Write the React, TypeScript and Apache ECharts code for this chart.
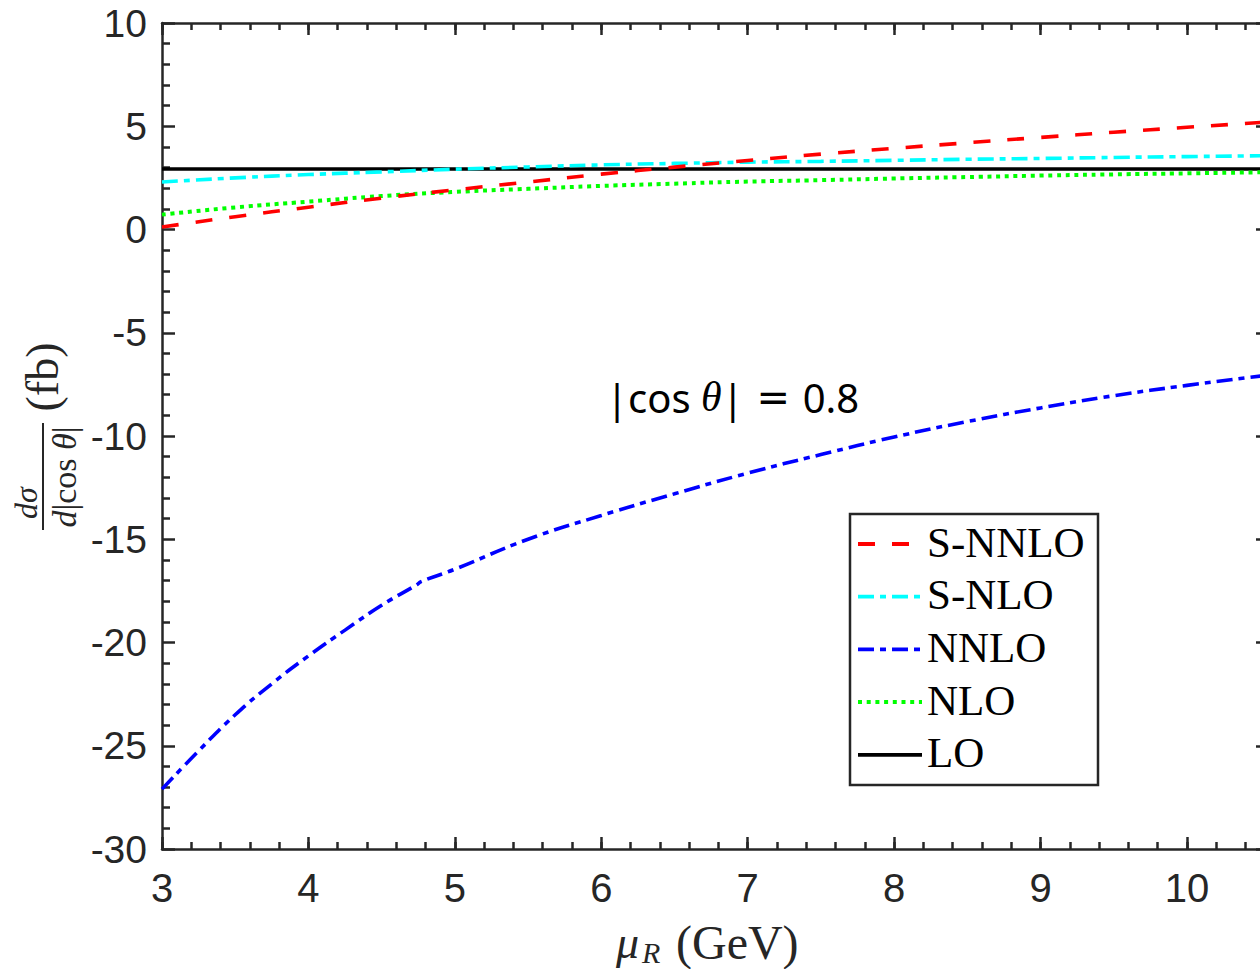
import React, { useEffect, useRef } from "react";
import * as echarts from "echarts";

// ---------------- data ----------------
const seriesNames = ["S-NNLO", "S-NLO", "NNLO", "NLO", "LO"];
const muR = [3, 3.5, 4, 4.5, 5, 5.5, 6, 6.5, 7, 7.5, 8, 8.5, 9, 9.5, 10, 10.5];
const sNNLO = [0.12, 0.62, 1.08, 1.52, 1.92, 2.3, 2.68, 3.02, 3.34, 3.65, 3.93, 4.2, 4.46, 4.71, 4.95, 5.18];
const sNLO = [2.3, 2.5, 2.66, 2.79, 2.92, 3.03, 3.13, 3.2, 3.26, 3.3, 3.35, 3.4, 3.44, 3.49, 3.53, 3.57];
const nlo = [0.72, 1.07, 1.35, 1.62, 1.82, 1.97, 2.11, 2.22, 2.32, 2.39, 2.47, 2.54, 2.61, 2.67, 2.72, 2.77];
const lo = [2.93, 2.93, 2.93, 2.93, 2.93, 2.93, 2.93, 2.93, 2.93, 2.93, 2.93, 2.93, 2.93, 2.93, 2.93, 2.93];
const muRNNLO = [3, 3.25, 3.5, 3.75, 4, 4.25, 4.5, 4.74, 4.77, 5, 5.5, 6, 6.5, 7, 7.5, 8, 8.5, 9, 9.5, 10, 10.5];
const nnlo = [-27.1, -25.25, -23.5, -22.0, -20.65, -19.4, -18.2, -17.2, -17.05, -16.45, -15.0, -13.85, -12.8, -11.8, -10.9, -10.05, -9.3, -8.64, -8.05, -7.55, -7.1];
const xTickLabels = [3, 4, 5, 6, 7, 8, 9, 10];
const yTickLabels = [-30, -25, -20, -15, -10, -5, 0, 5, 10];

// ---------------- styles ----------------
const AXIS = "#262626";
const SANS = "Liberation Sans, Arial, sans-serif";
const SERIF = "Liberation Serif, Times New Roman, serif";
const lineStyles: Record<string, { color: string; dash: number[] | null }> = {
  "S-NNLO": { color: "#ff0000", dash: [17, 17] },
  "S-NLO": { color: "#00ffff", dash: [16, 6, 6, 6] },
  NNLO: { color: "#0000ff", dash: [16, 6, 6, 6] },
  NLO: { color: "#00ff00", dash: [4, 4.7] },
  LO: { color: "#000000", dash: null },
};

const pairs = (xs: number[], ys: number[]) => xs.map((x, i) => [x, ys[i]]);
const seriesData: Record<string, number[][]> = {
  "S-NNLO": pairs(muR, sNNLO),
  "S-NLO": pairs(muR, sNLO),
  NNLO: pairs(muRNNLO, nnlo),
  NLO: pairs(muR, nlo),
  LO: pairs(muR, lo),
};

const X_MIN = 3;
const X_MAX = 10.56;

function buildOption() {
  const tickLine = { color: AXIS, width: 2.5 };
  const baseX = {
    type: "value",
    min: X_MIN,
    max: X_MAX,
    splitLine: { show: false },
    minorSplitLine: { show: false },
  };
  const xAxes = [
    {
      ...baseX,
      position: "bottom",
      interval: 1,
      axisLine: { show: true, onZero: false, lineStyle: tickLine },
      axisTick: { show: true, inside: true, length: 12, lineStyle: tickLine },
      axisLabel: {
        show: true,
        showMaxLabel: false,
        fontSize: 40,
        fontFamily: SANS,
        color: AXIS,
        margin: 19,
        formatter: (v: number) => (xTickLabels.includes(v) ? String(v) : ""),
      },
    },
    {
      ...baseX,
      position: "bottom",
      interval: 0.2,
      axisLine: { show: false, onZero: false },
      axisTick: { show: true, inside: true, length: 7, lineStyle: tickLine },
      axisLabel: { show: false },
    },
    {
      ...baseX,
      position: "top",
      interval: 1,
      axisLine: { show: true, onZero: false, lineStyle: tickLine },
      axisTick: { show: true, inside: true, length: 12, lineStyle: tickLine },
      axisLabel: { show: false },
    },
    {
      ...baseX,
      position: "top",
      interval: 0.2,
      axisLine: { show: false, onZero: false },
      axisTick: { show: true, inside: true, length: 7, lineStyle: tickLine },
      axisLabel: { show: false },
    },
  ];
  const baseY = {
    type: "value",
    min: -30,
    max: 10,
    interval: 5,
    splitLine: { show: false },
    minorSplitLine: { show: false },
    axisLine: { show: true, onZero: false, lineStyle: tickLine },
    axisTick: { show: true, inside: true, length: 13, lineStyle: tickLine },
    minorTick: { show: true, splitNumber: 5, length: 8, lineStyle: tickLine },
  };
  const yAxes = [
    {
      ...baseY,
      position: "left",
      axisLabel: {
        show: true,
        fontSize: 39,
        fontFamily: SANS,
        color: AXIS,
        margin: 15,
        formatter: (v: number) => (yTickLabels.includes(v) ? String(v) : ""),
      },
    },
    { ...baseY, position: "right", axisLabel: { show: false } },
  ];

  const drawOrder = ["LO", "NLO", "NNLO", "S-NLO", "S-NNLO"];
  const series = drawOrder.map((name) => {
    const st = lineStyles[name];
    return {
      name,
      type: "line",
      xAxisIndex: 0,
      yAxisIndex: 0,
      data: seriesData[name],
      showSymbol: false,
      symbol: "none",
      smooth: 0.5,
      lineStyle: {
        color: st.color,
        width: name === "NLO" ? 4 : 3.6,
        type: st.dash ? st.dash : "solid",
        cap: "butt",
      },
      silent: true,
    };
  });

  // legend built from names
  const legendX = 850;
  const legendY = 514;
  const rowY0 = 544;
  const rowGap = 52.7;
  const legendEls: any[] = [
    {
      type: "rect",
      shape: { x: legendX, y: legendY, width: 248, height: 271 },
      style: { fill: "#ffffff", stroke: AXIS, lineWidth: 2.5 },
      z: 100,
    },
  ];
  seriesNames.forEach((name, i) => {
    const st = lineStyles[name];
    const y = rowY0 + i * rowGap;
    legendEls.push({
      type: "line",
      shape: { x1: 858, y1: y, x2: 922, y2: y },
      style: {
        stroke: st.color,
        lineWidth: name === "NLO" ? 4 : 3.8,
        lineDash: st.dash ? st.dash : null,
        lineCap: "butt",
      },
      z: 101,
    });
    legendEls.push({
      type: "text",
      x: 927,
      y: y - 2,
      style: {
        text: name,
        font: `43px ${SERIF}`,
        fill: "#000000",
        align: "left",
        verticalAlign: "middle",
      },
      z: 101,
    });
  });

  const graphic: any[] = [
    ...legendEls,
    // annotation |cos θ| = 0.8
    {
      type: "text",
      x: 606,
      y: 397,
      style: {
        text: "{n||cos}{t| θ}{n||}{e| = }{n|0.8}",
        rich: {
          n: { fontFamily: "Noto Sans, sans-serif", fontSize: 40, fill: "#000" },
          t: { fontFamily: SERIF, fontStyle: "italic", fontSize: 42, fill: "#000" },
          e: { fontFamily: "DejaVu Sans, sans-serif", fontSize: 40, fill: "#000" },
        },
        align: "left",
        verticalAlign: "middle",
      },
      z: 50,
    },
    // x-axis name: μ_R (GeV)
    {
      type: "text",
      x: 616,
      y: 942,
      style: {
        text: "μ",
        font: `italic 46px ${SERIF}`,
        fill: AXIS,
        align: "left",
        verticalAlign: "middle",
      },
    },
    {
      type: "text",
      x: 642,
      y: 952,
      style: {
        text: "R",
        font: `italic 30px ${SERIF}`,
        fill: AXIS,
        align: "left",
        verticalAlign: "middle",
      },
    },
    {
      type: "text",
      x: 676,
      y: 942,
      style: {
        text: "(GeV)",
        font: `48px ${SERIF}`,
        fill: AXIS,
        align: "left",
        verticalAlign: "middle",
      },
    },
    // y-axis name: dσ / d|cos θ| (fb)
    {
      type: "text",
      x: 42,
      y: 377,
      rotation: Math.PI / 2,
      style: {
        text: "(fb)",
        font: `46px ${SERIF}`,
        fill: AXIS,
        align: "center",
        verticalAlign: "middle",
      },
    },
    {
      type: "text",
      x: 26,
      y: 503,
      rotation: Math.PI / 2,
      style: {
        text: "dσ",
        font: `italic 32px ${SERIF}`,
        fill: AXIS,
        align: "center",
        verticalAlign: "middle",
      },
    },
    {
      type: "line",
      shape: { x1: 43, y1: 423, x2: 43, y2: 530 },
      style: { stroke: AXIS, lineWidth: 2 },
    },
    {
      type: "text",
      x: 64,
      y: 477,
      rotation: Math.PI / 2,
      style: {
        text: "{i|d}{n||cos }{i|θ}{n||}",
        rich: {
          i: { fontFamily: SERIF, fontStyle: "italic", fontSize: 34, fill: AXIS },
          n: { fontFamily: SERIF, fontSize: 34, fill: AXIS },
        },
        align: "center",
        verticalAlign: "middle",
      },
    },
  ];

  return {
    animation: false,
    backgroundColor: "#ffffff",
    grid: {
      left: 162,
      right: 11,
      top: 23,
      bottom: 120,
      containLabel: false,
      outerBoundsMode: "none",
    },
    xAxis: xAxes,
    yAxis: yAxes,
    series,
    graphic,
  };
}

export default function App() {
  const ref = useRef<HTMLDivElement>(null);
  useEffect(() => {
    if (!ref.current) return;
    const chart = echarts.init(ref.current, null, { renderer: "svg" });
    chart.setOption(buildOption() as any);
    return () => {
      chart.dispose();
    };
  }, []);
  return (
    <div
      style={{
        position: "absolute",
        left: 0,
        top: 0,
        width: 1260,
        height: 969,
        overflow: "hidden",
        background: "#ffffff",
      }}
    >
      <div ref={ref} style={{ width: 1280, height: 969 }} />
    </div>
  );
}
